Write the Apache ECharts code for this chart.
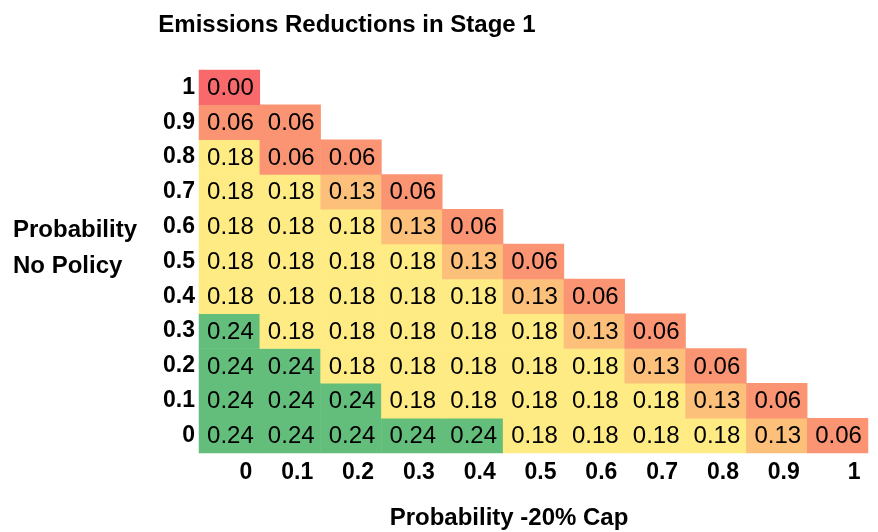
<!DOCTYPE html>
<html>
<head>
<meta charset="utf-8">
<script src="https://cdn.jsdelivr.net/npm/echarts@6/dist/echarts.min.js"></script>
<style>
  html, body { margin: 0; padding: 0; background: #fff; }
  #chart { width: 878px; height: 532px; }
</style>
</head>
<body>
<div id="chart"></div>
<script>
// Axis categories (probabilities)
const capProbs = ['0', '0.1', '0.2', '0.3', '0.4', '0.5', '0.6', '0.7', '0.8', '0.9', '1'];
const noPolicyProbs = ['0', '0.1', '0.2', '0.3', '0.4', '0.5', '0.6', '0.7', '0.8', '0.9', '1'];

// Emissions reductions, one list per "No Policy" probability row (bottom row first),
// each row running along the -20% cap probability from 0 upward.
const row0  = [0.24, 0.24, 0.24, 0.24, 0.24, 0.18, 0.18, 0.18, 0.18, 0.13, 0.06];
const row01 = [0.24, 0.24, 0.24, 0.18, 0.18, 0.18, 0.18, 0.18, 0.13, 0.06];
const row02 = [0.24, 0.24, 0.18, 0.18, 0.18, 0.18, 0.18, 0.13, 0.06];
const row03 = [0.24, 0.18, 0.18, 0.18, 0.18, 0.18, 0.13, 0.06];
const row04 = [0.18, 0.18, 0.18, 0.18, 0.18, 0.13, 0.06];
const row05 = [0.18, 0.18, 0.18, 0.18, 0.13, 0.06];
const row06 = [0.18, 0.18, 0.18, 0.13, 0.06];
const row07 = [0.18, 0.18, 0.13, 0.06];
const row08 = [0.18, 0.06, 0.06];
const row09 = [0.06, 0.06];
const row10 = [0.00];
const rows = [row0, row01, row02, row03, row04, row05, row06, row07, row08, row09, row10];

// Colour scale: red (low) -> yellow (median) -> green (high)
const scaleValues = [0.00, 0.06, 0.13, 0.18, 0.24];
const scaleColors = ['#F8696B', '#FA9473', '#FCC07B', '#FFEB84', '#63BE7B'];

const heatData = [];
rows.forEach((vals, yi) => {
  vals.forEach((v, xi) => heatData.push([xi, yi, v]));
});

const FONT = '"Liberation Sans", Arial, sans-serif';

const chart = echarts.init(document.getElementById('chart'), null, { renderer: 'canvas' });
chart.setOption({
  animation: false,
  backgroundColor: '#ffffff',
  textStyle: { fontFamily: FONT },
  title: [
    {
      text: 'Emissions Reductions in Stage 1',
      left: 342, top: 8, textAlign: 'center',
      textStyle: { fontFamily: FONT, fontSize: 24, fontWeight: 'bold', color: '#000' }
    },
    {
      text: 'Probability -20% Cap',
      left: 504, top: 501, textAlign: 'center',
      textStyle: { fontFamily: FONT, fontSize: 24, fontWeight: 'bold', color: '#000' }
    },
    {
      text: 'Probability\nNo Policy',
      left: 8, top: 207,
      textStyle: { fontFamily: FONT, fontSize: 24, fontWeight: 'bold', color: '#000', lineHeight: 36 }
    }
  ],
  grid: { left: 199, right: 10, top: 70, bottom: 79 },
  xAxis: {
    type: 'category',
    data: capProbs,
    axisLine: { show: false },
    axisTick: { show: false },
    splitLine: { show: false },
    axisLabel: {
      margin: 8,
      formatter: v => '{a|' + v + '}',
      rich: {
        a: { width: 46, align: 'right', fontFamily: FONT, fontSize: 23, fontWeight: 'bold', color: '#000' }
      }
    }
  },
  yAxis: {
    type: 'category',
    data: noPolicyProbs,
    axisLine: { show: false },
    axisTick: { show: false },
    splitLine: { show: false },
    axisLabel: { margin: 4, fontFamily: FONT, fontSize: 23, fontWeight: 'bold', color: '#000' }
  },
  visualMap: {
    show: false,
    type: 'piecewise',
    dimension: 2,
    pieces: scaleValues.map((v, i) => ({ value: v, color: scaleColors[i] }))
  },
  series: [{
    type: 'heatmap',
    data: heatData,
    itemStyle: { borderWidth: 0 },
    label: {
      show: true,
      formatter: p => p.value[2].toFixed(2),
      fontFamily: FONT,
      fontSize: 24,
      offset: [1, 1],
      color: '#000'
    },
    emphasis: { disabled: true }
  }]
});
</script>
</body>
</html>
